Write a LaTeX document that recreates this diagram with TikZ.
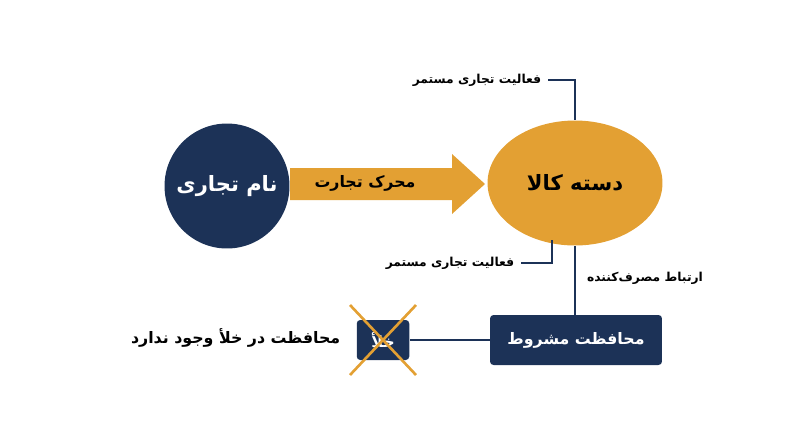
\documentclass[tikz,border=0pt]{standalone}
\usepackage{fontspec}
\newfontfamily\farsi[Script=Arabic]{DejaVu Sans}
\TeXXeTstate=1
\newcommand{\fa}[1]{{\farsi\bfseries\beginR #1\endR}}
\usetikzlibrary{shapes.geometric,positioning}
\definecolor{navy}{HTML}{1C3257}
\definecolor{gold}{HTML}{E3A033}
\tikzstyle{label}=[font=\fontsize{7}{9}\selectfont,text=black,inner sep=2pt]
\tikzstyle{conn}=[draw=navy,line width=0.6pt]

\begin{document}
\begin{tikzpicture}[x=0.02cm,y=-0.02cm,every node/.style={inner sep=2.5pt}]
        \useasboundingbox (0,0) rectangle (800,447);

        \node[circle,fill=navy,minimum size=2.5cm,text=white,font=\large] at (227,186) (brand) {\fa{نام تجاری}};

        % arrow
        \fill[gold] (290,168) -- (452,168) -- (452,154) -- (485,184) -- (452,214) -- (452,200) -- (290,200) -- cycle;
        \node[font=\small] at (365,183) (engine) {\fa{محرک تجارت}};

        \node[ellipse,fill=gold,minimum width=3.5cm,minimum height=2.5cm,font=\large] at (575,183) (cat) {\fa{دسته کالا}};

        \node[label,anchor=east] at (545,80) (act1) {\fa{فعالیت تجاری مستمر}};
        \node[label,anchor=east] at (518,263) (act2) {\fa{فعالیت تجاری مستمر}};
        \node[label] at (645,278) (cons) {\fa{ارتباط مصرف‌کننده}};

        \node[rectangle,fill=navy,rounded corners=2pt,minimum width=3.44cm,minimum height=1cm,text=white,font=\small] at (576,340) (cond) {\fa{محافظت مشروط}};
        \node[rectangle,fill=navy,rounded corners=2pt,minimum width=1.05cm,minimum height=0.8cm,text=white,font=\small] at (383,340) (vac) {\fa{خلأ}};
        \node[font=\small,anchor=east] at (345,338) (novac) {\fa{محافظت در خلأ وجود ندارد}};

        \draw[conn] (act1.east) ++(3,0) -| (cat.north);
        \draw[conn] (act2.east) ++(3,0) -| (552,240);
        \draw[draw=navy,line width=1.6pt] (cat.south) -- (cat.south |- cond.north);
        \draw[draw=navy,line width=1.2pt] (cond.west) -- (vac.east);

        \draw[gold,line width=1.5pt] (vac.center) ++(-33,-35) -- ++(66,70);
        \draw[gold,line width=1.5pt] (vac.center) ++(33,-35) -- ++(-66,70);
      \end{tikzpicture}
\end{document}
